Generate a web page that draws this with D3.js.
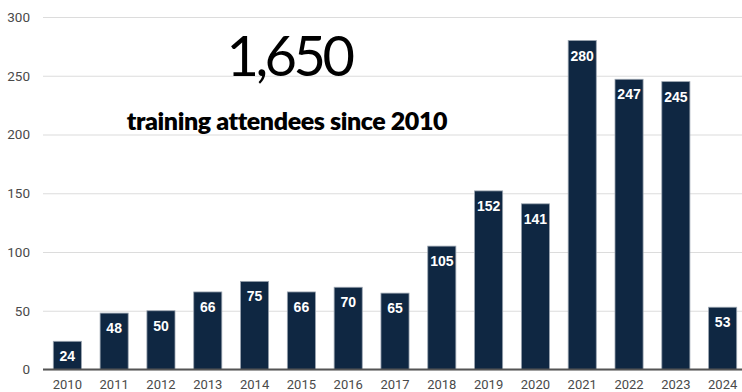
<!DOCTYPE html>
<html>
<head>
<meta charset="utf-8">
<script src="https://cdn.jsdelivr.net/npm/d3@7"></script>
<style>
  html, body { margin: 0; padding: 0; background: #fff; overflow: hidden; }
  svg { display: block; }
</style>
</head>
<body>
<svg id="chart" width="742" height="392"></svg>
<script>
// Training attendees per year
const years = ["2010","2011","2012","2013","2014","2015","2016","2017","2018","2019","2020","2021","2022","2023","2024"];
const attendees = [24, 48, 50, 66, 75, 66, 70, 65, 105, 152, 141, 280, 247, 245, 53];
const yTicks = [0, 50, 100, 150, 200, 250, 300];
const headline = "1,650";
const subline = "training attendees since 2010";

const svg = d3.select("#chart");
const W = 742, H = 392;
const plotLeft = 43, plotRight = 747, plotTop = 17, plotBottom = 369.5;

const x = d3.scaleBand().domain(years).range([plotLeft, plotRight]).paddingInner(0.4).paddingOuter(0.22);
const y = d3.scaleLinear().domain([0, 300]).range([plotBottom, plotTop]);

// gridlines + y tick labels
const yAxis = d3.axisLeft(y).tickValues(yTicks).tickSize(-(W - plotLeft)).tickPadding(13);
const gy = svg.append("g").attr("transform", `translate(${plotLeft},0)`).call(yAxis);
gy.select(".domain").remove();
gy.selectAll(".tick line").attr("stroke", "#dcdcdc").attr("stroke-width", 1.2);
gy.selectAll(".tick text")
  .attr("fill", "#4a4a4a")
  .style("font-family", "Roboto, 'Liberation Sans', Arial, sans-serif")
  .style("font-size", "13.5px");

// headline text
svg.append("text")
  .attr("x", 289).attr("y", 76)
  .attr("text-anchor", "middle")
  .style("font-family", "Lato, sans-serif")
  .style("font-weight", 400)
  .style("font-size", "56px")
  .style("letter-spacing", "-3.5px")
  .attr("fill", "#000")
  .text(headline);

svg.append("text")
  .attr("x", 287).attr("y", 130)
  .attr("text-anchor", "middle")
  .style("font-family", "Lato, sans-serif")
  .style("font-weight", 800)
  .style("font-size", "25px")
  .style("letter-spacing", "-0.4px")
  .attr("fill", "#000")
  .text(subline);

// bars
svg.append("g").selectAll("rect")
  .data(years.map((yr, i) => ({ yr, v: attendees[i] })))
  .join("rect")
  .attr("x", d => x(d.yr))
  .attr("y", d => y(d.v))
  .attr("width", x.bandwidth())
  .attr("height", d => y(0) - y(d.v))
  .attr("fill", "#0f2742")
  .attr("stroke", "#9aa4b0")
  .attr("stroke-width", 0.8);

// value labels inside bars
svg.append("g").selectAll("text")
  .data(years.map((yr, i) => ({ yr, v: attendees[i] })))
  .join("text")
  .attr("x", d => x(d.yr) + x.bandwidth() / 2)
  .attr("y", d => y(d.v) + 20)
  .attr("text-anchor", "middle")
  .attr("fill", "#fff")
  .style("font-family", "'Liberation Sans', Arial, sans-serif")
  .style("font-weight", 700)
  .style("font-size", "14px")
  .text(d => d.v);

// baseline
svg.append("line")
  .attr("x1", plotLeft).attr("x2", W)
  .attr("y1", y(0)).attr("y2", y(0))
  .attr("stroke", "#555")
  .attr("stroke-width", 2);

// x labels
const gx = svg.append("g").attr("transform", `translate(0,${y(0)})`)
  .call(d3.axisBottom(x).tickSize(0).tickPadding(10));
gx.select(".domain").remove();
gx.selectAll(".tick text")
  .attr("fill", "#4a4a4a")
  .style("font-family", "Roboto, 'Liberation Sans', Arial, sans-serif")
  .style("font-size", "13px");
</script>
</body>
</html>
